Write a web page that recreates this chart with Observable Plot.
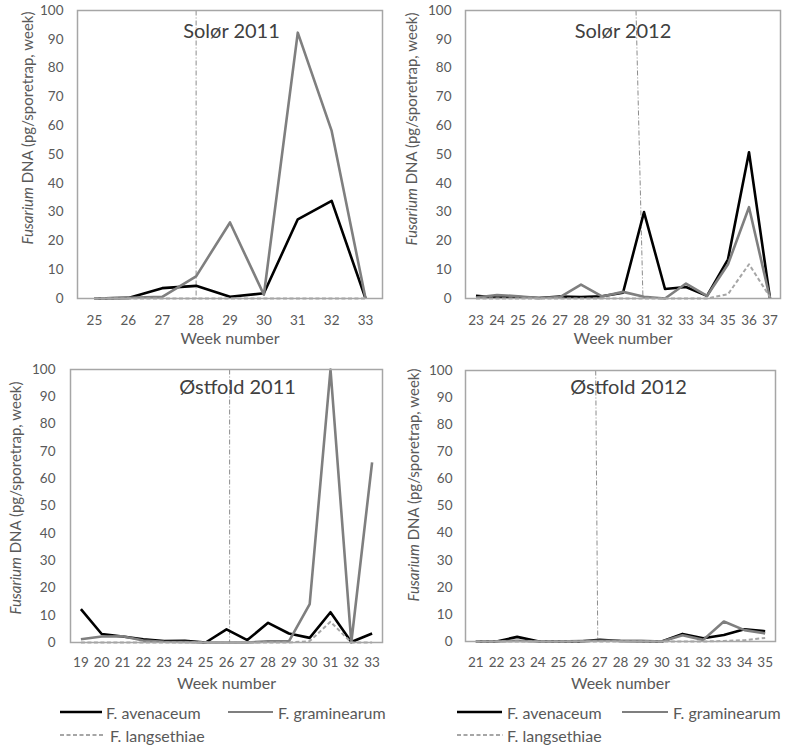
<!DOCTYPE html>
<html>
<head>
<meta charset="utf-8">
<script src="https://cdn.jsdelivr.net/npm/d3@7"></script>
<script src="https://cdn.jsdelivr.net/npm/@observablehq/plot@0.6"></script>
<style>
  html, body { margin: 0; padding: 0; background: #fff; }
  #chart { position: relative; width: 787px; height: 746px; overflow: hidden; font-family: Lato, sans-serif; color: #595959; }
  .panel { position: absolute; }
</style>
</head>
<body>
<div id="chart"></div>
<script>
// ---------- data ----------
const seriesNames = ["F. avenaceum", "F. graminearum", "F. langsethiae"];
const yTicks = [0, 10, 20, 30, 40, 50, 60, 70, 80, 90, 100];
const yLabelItalic = "Fusarium";
const yLabelRest = " DNA (pg/sporetrap, week)";
const xLabel = "Week number";

const panelTitles = ["Solør 2011", "Solør 2012", "Østfold 2011", "Østfold 2012"];

const solor2011Weeks = [25, 26, 27, 28, 29, 30, 31, 32, 33];
const solor2011Aven  = [0, 0.2, 3.6, 4.4, 0.6, 1.8, 27.5, 33.9, 0];
const solor2011Gram  = [0, 0.2, 0.6, 7.7, 26.4, 1.3, 92.3, 58.2, 0];
const solor2011Lang  = [0, 0, 0, 0, 0, 0, 0, 0, 0];

const solor2012Weeks = [23, 24, 25, 26, 27, 28, 29, 30, 31, 32, 33, 34, 35, 36, 37];
const solor2012Aven  = [0.9, 0.3, 0.5, 0.2, 0.7, 0.5, 0.8, 2.0, 30.0, 3.3, 4.0, 0.9, 13.6, 50.8, 0];
const solor2012Gram  = [0.3, 1.2, 0.8, 0.2, 0.5, 4.8, 0.7, 2.3, 0.6, 0, 5.2, 0.9, 11.9, 31.7, 0];
const solor2012Lang  = [0, 0, 0, 0, 0, 0, 0, 0, 0, 0, 0, 0, 1.5, 11.9, 0.5];

const ostfold2011Weeks = [19, 20, 21, 22, 23, 24, 25, 26, 27, 28, 29, 30, 31, 32, 33];
const ostfold2011Aven  = [12.2, 3.1, 2.2, 1.2, 0.5, 0.6, 0, 4.8, 0.9, 7.2, 3.3, 1.7, 11.1, 0.2, 3.3];
const ostfold2011Gram  = [1.2, 2.2, 2.3, 0.7, 0.3, 0.2, 0, 0, 0, 0.4, 0.4, 14.1, 100, 0, 66];
const ostfold2011Lang  = [0, 0, 0, 0, 0, 0, 0, 0, 0, 0, 0, 0.5, 7.6, 0, 0];

const ostfold2012Weeks = [21, 22, 23, 24, 25, 26, 27, 28, 29, 30, 31, 32, 33, 34, 35];
const ostfold2012Aven  = [0, 0, 1.7, 0.1, 0, 0, 0.6, 0.2, 0.1, 0, 2.8, 1.2, 2.4, 4.5, 3.8];
const ostfold2012Gram  = [0, 0, 0.3, 0, 0, 0.2, 0.3, 0.3, 0.3, 0, 2.3, 0.6, 7.4, 4.2, 3.0];
const ostfold2012Lang  = [0, 0, 0, 0, 0, 0, 0, 0, 0, 0, 0, 0, 0.2, 0.5, 1.3];

// reference (dash-dot) week markers: week at top and at bottom of the plot
const markerWeekTop    = [28, 30.62, 26.15, 26.8];
const markerWeekBottom = [28, 30.95, 26.15, 26.9];

// ---------- styles ----------
const seriesStyle = {
  "F. avenaceum":   {stroke: "#000000", strokeWidth: 2.6, dash: null},
  "F. graminearum": {stroke: "#7f7f7f", strokeWidth: 2.6, dash: null},
  "F. langsethiae": {stroke: "#a6a6a6", strokeWidth: 2, dash: "4,2.5"}
};

const layouts = [
  {left: 0,   top: 0,   width: 393, mL: 77, mR: 11, mT: 10, mB: 52, xPad: 17, yPad: 14, wDy: 45, tDx: 1.5, tDy: 27, ylx: 27, yly: 128},
  {left: 393, top: 0,   width: 394, mL: 72, mR: 7,  mT: 10, mB: 52, xPad: 17, yPad: 14, wDy: 45, tDx: 0,   tDy: 27, ylx: 18, yly: 129},
  {left: 0,   top: 350, width: 393, mL: 70, mR: 11, mT: 19, mB: 58, xPad: 15, yPad: 15, wDy: 46, tDx: 11,  tDy: 24, ylx: 15, yly: 148},
  {left: 393, top: 350, width: 394, mL: 72, mR: 12, mT: 20, mB: 59, xPad: 16, yPad: 13, wDy: 47, tDx: 8,   tDy: 23, ylx: 20, yly: 135}
];

const panelsData = [
  [solor2011Weeks, solor2011Aven, solor2011Gram, solor2011Lang],
  [solor2012Weeks, solor2012Aven, solor2012Gram, solor2012Lang],
  [ostfold2011Weeks, ostfold2011Aven, ostfold2011Gram, ostfold2011Lang],
  [ostfold2012Weeks, ostfold2012Aven, ostfold2012Gram, ostfold2012Lang]
];

const chart = document.getElementById("chart");

panelsData.forEach(([weeks, aven, gram, lang], p) => {
  const L = layouts[p];
  const seriesVals = [aven, gram, lang];
  const lineMarks = seriesNames.map((name, s) => {
    const rows = weeks.map((w, i) => ({week: w, value: seriesVals[s][i]}));
    const st = seriesStyle[name];
    return Plot.line(rows, {
      x: "week", y: "value",
      stroke: st.stroke, strokeWidth: st.strokeWidth,
      strokeDasharray: st.dash, strokeLinejoin: "round", strokeLinecap: "butt"
    });
  });
  const marker = [{x1: markerWeekTop[p], x2: markerWeekBottom[p], y1: 100, y2: 0}];

  const svg = Plot.plot({
    width: L.width, height: 350,
    marginLeft: L.mL, marginRight: L.mR, marginTop: L.mT, marginBottom: L.mB,
    style: {fontFamily: "Lato, sans-serif", fontSize: "13.5px", color: "#595959", background: "transparent", overflow: "visible"},
    x: {domain: [weeks[0] - 0.5, weeks[weeks.length - 1] + 0.5]},
    y: {domain: [0, 100]},
    marks: [
      Plot.axisX({ticks: weeks, tickSize: 0, tickPadding: L.xPad, tickFormat: d => String(d), label: null}),
      Plot.axisY({ticks: yTicks, tickSize: 0, tickPadding: L.yPad, tickFormat: d => String(d), label: null}),
      Plot.link(marker, {x1: "x1", x2: "x2", y1: "y1", y2: "y2", stroke: "#8c8c8c", strokeWidth: 1, strokeDasharray: "5,2,1,2"}),
      ...lineMarks,
      Plot.frame({stroke: "#a6a6a6", strokeWidth: 1.5}),
      Plot.text([panelTitles[p]], {frameAnchor: "top", lineAnchor: "bottom", dx: L.tDx, dy: L.tDy, fontSize: 20, fill: "#404040"}),
      Plot.text([xLabel], {frameAnchor: "bottom", dy: L.wDy, fontSize: 16, fill: "#595959"})
    ]
  });

  const lbl = d3.select(svg).append("text")
    .attr("transform", `translate(${L.ylx},${L.yly}) rotate(-90)`)
    .attr("text-anchor", "middle")
    .attr("dominant-baseline", "central")
    .attr("font-size", 15)
    .attr("fill", "#595959");
  lbl.append("tspan").attr("font-style", "italic").text(yLabelItalic);
  lbl.append("tspan").text(yLabelRest);

  const div = document.createElement("div");
  div.className = "panel";
  div.style.left = L.left + "px";
  div.style.top = L.top + "px";
  div.appendChild(svg);
  chart.appendChild(div);
});

// ---------- legends (one under each bottom panel) ----------
const legendItems = [
  {s: 0, lx0: 60,  lx1: 102, tx: 106, y: 712},
  {s: 1, lx0: 228, lx1: 273, tx: 278, y: 712},
  {s: 2, lx0: 60,  lx1: 105, tx: 110, y: 735},
  {s: 0, lx0: 457, lx1: 502, tx: 507, y: 712},
  {s: 1, lx0: 622, lx1: 668, tx: 673, y: 712},
  {s: 2, lx0: 457, lx1: 503, tx: 507, y: 735}
];
const legSvg = d3.select(chart).append("svg")
  .attr("width", 787).attr("height", 746)
  .style("position", "absolute").style("left", "0px").style("top", "0px")
  .style("pointer-events", "none");
legendItems.forEach(it => {
  const name = seriesNames[it.s];
  const st = seriesStyle[name];
  legSvg.append("line")
    .attr("x1", it.lx0).attr("x2", it.lx1).attr("y1", it.y).attr("y2", it.y)
    .attr("stroke", st.stroke).attr("stroke-width", it.s === 1 ? 2 : st.strokeWidth)
    .attr("stroke-dasharray", st.dash);
  legSvg.append("text")
    .attr("x", it.tx).attr("y", it.y)
    .attr("dominant-baseline", "central")
    .attr("font-family", "Lato, sans-serif")
    .attr("font-size", 16).attr("fill", "#595959")
    .text(name);
});
</script>
</body>
</html>
